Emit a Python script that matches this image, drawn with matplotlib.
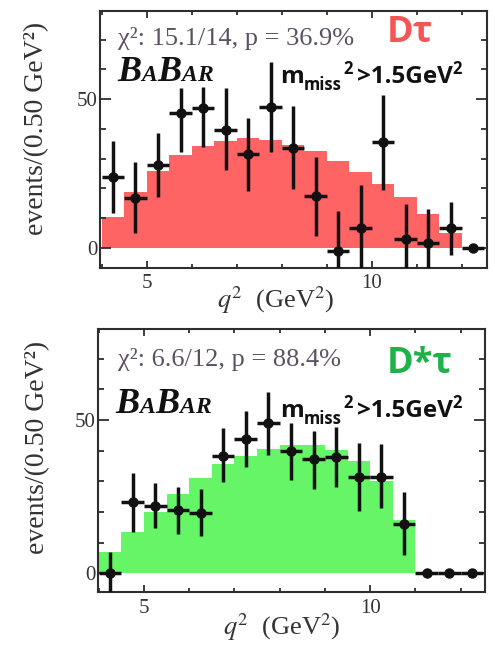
import matplotlib
matplotlib.use("Agg")
import matplotlib.pyplot as plt
import matplotlib.transforms as mtransforms
from matplotlib.ticker import MultipleLocator

plt.rcParams["mathtext.fontset"] = "stix"
SERIF = ["Liberation Serif", "DejaVu Serif"]
SANS = ["Open Sans", "DejaVu Sans"]

# ---- D tau sample (0.5 GeV^2 bins) ----
dtau_edges = [4.0, 4.5, 5.0, 5.5, 6.0, 6.5, 7.0, 7.5, 8.0, 8.5, 9.0, 9.5,
              10.0, 10.5, 11.0, 11.5, 12.0]
dtau_fit = [10.3, 18.6, 25.8, 31.2, 34.3, 36.0, 36.9, 36.2, 34.6, 32.5,
            29.1, 25.6, 21.4, 17.0, 11.5, 5.1]
dtau_q2 = [4.25, 4.75, 5.25, 5.75, 6.25, 6.75, 7.25, 7.75, 8.25, 8.75,
           9.25, 9.75, 10.25, 10.75, 11.25, 11.75, 12.25]
dtau_data = [23.7, 16.8, 27.8, 45.2, 46.9, 39.6, 31.5, 47.4, 33.6, 17.4,
             -1.0, 6.7, 35.4, 2.8, 1.5, 6.7, 0.0]
dtau_err_up = [12.3, 12.1, 10.7, 8.6, 7.0, 14.0, 12.3, 15.1, 14.0, 13.2,
               13.4, 14.4, 15.9, 11.9, 11.4, 8.6, 0.0]
dtau_err_dn = [11.9, 12.0, 10.7, 13.0, 12.9, 13.5, 12.4, 15.1, 14.0, 13.4,
               13.4, 14.4, 16.0, 11.9, 11.4, 9.2, 0.0]

# ---- D* tau sample ----
dstau_edges = [4.0, 4.5, 5.0, 5.5, 6.0, 6.5, 7.0, 7.5, 8.0, 8.5, 9.0, 9.5,
               10.0, 10.5, 11.0]
dstau_fit = [7.0, 13.6, 20.1, 25.9, 31.0, 35.6, 38.4, 40.6, 41.8, 41.8,
             40.2, 36.6, 30.2, 17.3]
dstau_q2 = [4.25, 4.75, 5.25, 5.75, 6.25, 6.75, 7.25, 7.75, 8.25, 8.75,
            9.25, 9.75, 10.25, 10.75, 11.25, 11.75, 12.25]
dstau_data = [0.0, 23.4, 22.0, 20.6, 19.8, 38.4, 43.7, 49.1, 40.0, 37.2,
              38.0, 31.3, 31.5, 16.1, 0.0, 0.0, 0.0]
dstau_err_up = [7.0, 9.4, 7.5, 7.6, 7.6, 8.9, 9.3, 10.1, 9.1, 9.3, 9.6,
                11.3, 10.7, 10.5, 0.0, 0.0, 0.0]
dstau_err_dn = [7.0, 9.8, 7.3, 7.8, 7.6, 8.5, 9.1, 10.5, 9.6, 9.7, 9.8,
                10.9, 10.3, 10.1, 0.0, 0.0, 0.0]

q2_halfbin = 0.25

fig = plt.figure(figsize=(4.95, 6.45), dpi=100)
fig.patch.set_facecolor("white")
renderer = fig.canvas.get_renderer()

AX_COL = "#2e2e2e"


def chain_text(ax, x, y, pieces):
    """Place text pieces left to right on a common baseline (axes coords)."""
    xf = x
    for s, size, dy, kern, kw in pieces:
        tr = mtransforms.offset_copy(ax.transAxes, fig=fig, x=0, y=dy,
                                     units="points")
        xf += kern * fig.dpi / 72.0 / ax.bbox.width
        t = ax.text(xf, y, s, transform=tr, fontsize=size, va="baseline",
                    ha="left", **kw)
        bb = t.get_window_extent(renderer)
        xf += bb.width / ax.bbox.width


def style_axes(ax, xlim, ylim):
    ax.set_xlim(*xlim)
    ax.set_ylim(*ylim)
    ax.xaxis.set_major_locator(MultipleLocator(5))
    ax.xaxis.set_minor_locator(MultipleLocator(1))
    ax.yaxis.set_major_locator(MultipleLocator(50))
    ax.yaxis.set_minor_locator(MultipleLocator(10))
    for sp in ax.spines.values():
        sp.set_linewidth(1.5)
        sp.set_color(AX_COL)
    ax.tick_params(which="both", direction="in", top=True, right=True,
                   color=AX_COL, labelcolor="#333333", width=1.3)
    ax.tick_params(axis="y", which="major", length=8, pad=2)
    ax.tick_params(axis="y", which="minor", length=4.5)
    ax.tick_params(axis="x", which="major", length=5, pad=5)
    ax.tick_params(axis="x", which="minor", length=3)
    for lab in ax.get_xticklabels() + ax.get_yticklabels():
        lab.set_fontfamily(SERIF)
        lab.set_fontsize(15)
    ax.set_ylabel("events/(0.50 GeV²)", fontfamily=SERIF, fontsize=20,
                  color="#333333", va="center")
    ax.set_xlabel(r"$q^2$  (GeV$^2$)", fontfamily=SERIF, fontsize=19,
                  color="#333333", va="center")


def draw_panel(ax, edges, fit, q2, data, up, dn, fill_col):
    ax.stairs(fit, edges, fill=True, color=fill_col, lw=0, zorder=1)
    ax.errorbar(q2, data, xerr=q2_halfbin, yerr=[dn, up], fmt="o",
                color="#111111", ms=6.5, elinewidth=2.5, capsize=0,
                zorder=3)


# ---------------- top panel: D tau ----------------
ax1 = fig.add_axes([100 / 495, 1 - 267.5 / 645, 387 / 495, 257 / 645])
draw_panel(ax1, dtau_edges, dtau_fit, dtau_q2, dtau_data, dtau_err_up,
           dtau_err_dn, "#ff6464")
style_axes(ax1, (3.962, 12.556), (-6.66, 79.8))
ax1.yaxis.set_label_coords(-0.163, 0.543)
ax1.xaxis.set_label_coords(0.455, -0.126)

# ---------------- bottom panel: D* tau ----------------
ax2 = fig.add_axes([98.3 / 495, 1 - 592 / 645, 386.7 / 495, 263 / 645])
draw_panel(ax2, dstau_edges, dstau_fit, dstau_q2, dstau_data, dstau_err_up,
           dstau_err_dn, "#66f566")
style_axes(ax2, (3.99, 12.54), (-6.1, 79.7))
ax2.yaxis.set_label_coords(-0.157, 0.548)
ax2.xaxis.set_label_coords(0.475, -0.132)

# ---------------- annotations ----------------
CHI_COL = "#5a5262"
ax1.text(0.047, 0.866, "χ²: 15.1/14, p = 36.9%", transform=ax1.transAxes,
         fontfamily=SERIF, fontsize=19, color=CHI_COL, va="baseline")
ax2.text(0.052, 0.859, "χ²: 6.6/12, p = 88.4%", transform=ax2.transAxes,
         fontfamily=SERIF, fontsize=19, color=CHI_COL, va="baseline")

ax1.text(0.742, 0.879, "Dτ", transform=ax1.transAxes, fontfamily=SANS,
         fontweight="bold", fontsize=26, color="#f45555", va="baseline")
ax2.text(0.747, 0.832, "D*τ", transform=ax2.transAxes, fontfamily=SANS,
         fontweight="bold", fontsize=26, color="#1fb24a", va="baseline")

logo_kw = dict(fontfamily=SERIF, fontweight="bold", fontstyle="italic",
               color="#111111")
logo = [("B", 26, 0, 0, logo_kw), ("A", 17, 0, 0, logo_kw),
        ("B", 26, 0, 0, logo_kw), ("A", 17, 0, 0, logo_kw),
        ("R", 17, 0, 0, logo_kw)]
chain_text(ax1, 0.044, 0.726, logo)
chain_text(ax2, 0.044, 0.68, logo)

mm_kw = dict(fontfamily=SANS, fontweight="bold", color="#111111")
mmiss = [("m", 17.5, 0, 0, mm_kw), ("miss", 12, -5, 0, mm_kw),
         ("2", 12, 6.5, 1, mm_kw), (">1.5GeV", 17.5, 0, 3, mm_kw),
         ("2", 12, 6.5, 0, mm_kw)]
chain_text(ax1, 0.465, 0.718, mmiss)
chain_text(ax2, 0.47, 0.667, mmiss)

fig.savefig("out.png", dpi=100, facecolor="white")
